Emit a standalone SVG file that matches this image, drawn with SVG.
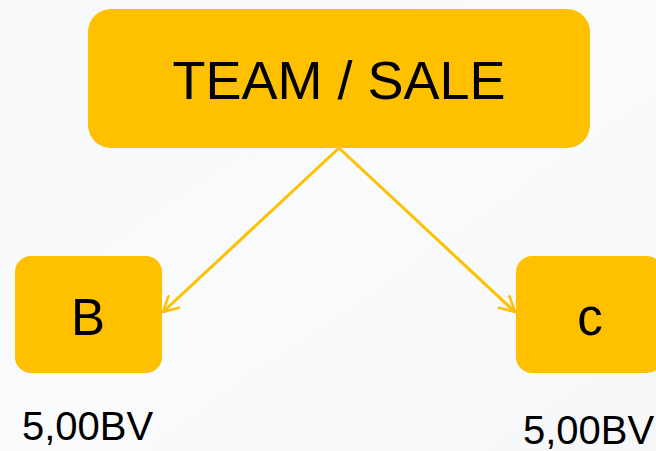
<svg xmlns="http://www.w3.org/2000/svg" width="656" height="451" viewBox="0 0 656 451">
  <defs>
    <linearGradient id="bg" x1="0" y1="0" x2="1" y2="1">
      <stop offset="0" stop-color="#f6f8f9"/>
      <stop offset="0.5" stop-color="#fafbfc"/>
      <stop offset="1" stop-color="#f5f7f8"/>
    </linearGradient>
    <marker id="arrow" viewBox="0 0 20 20" refX="17" refY="10" markerWidth="6.5" markerHeight="6.5" markerUnits="strokeWidth" orient="auto">
      <path d="M2,2 L17,10 L2,18" fill="none" stroke="#FFC000" stroke-width="2.6" stroke-linecap="round" stroke-linejoin="round"/>
    </marker>
    <style>
      .box { fill: #FFC000; }
      .lbl { font-family: "Liberation Sans", Arial, sans-serif; fill: #000; }
      .conn { stroke: #FFC000; stroke-width: 3; fill: none; }
    </style>
  </defs>
  <rect width="656" height="451" fill="url(#bg)"/>
  <g id="connectors">
    <line class="conn" x1="339" y1="148" x2="163" y2="312" marker-end="url(#arrow)"/>
    <line class="conn" x1="339" y1="148" x2="515" y2="312" marker-end="url(#arrow)"/>
  </g>
  <g id="node-team">
    <rect class="box" x="88" y="9" width="502" height="139" rx="23" ry="23"/>
    <text class="lbl" x="339" y="99" font-size="54" text-anchor="middle">TEAM / SALE</text>
  </g>
  <g id="node-b">
    <rect class="box" x="15" y="256" width="147" height="117" rx="16" ry="16"/>
    <text class="lbl" x="88" y="335" font-size="51" text-anchor="middle">B</text>
  </g>
  <g id="node-c">
    <rect class="box" x="516" y="256" width="147" height="117" rx="16" ry="16"/>
    <text class="lbl" x="590" y="335" font-size="51" text-anchor="middle">c</text>
  </g>
  <g id="label-b">
    <text class="lbl" x="22" y="440" font-size="40">5,00BV</text>
  </g>
  <g id="label-c">
    <text class="lbl" x="523" y="444" font-size="40">5,00BV</text>
  </g>
</svg>
